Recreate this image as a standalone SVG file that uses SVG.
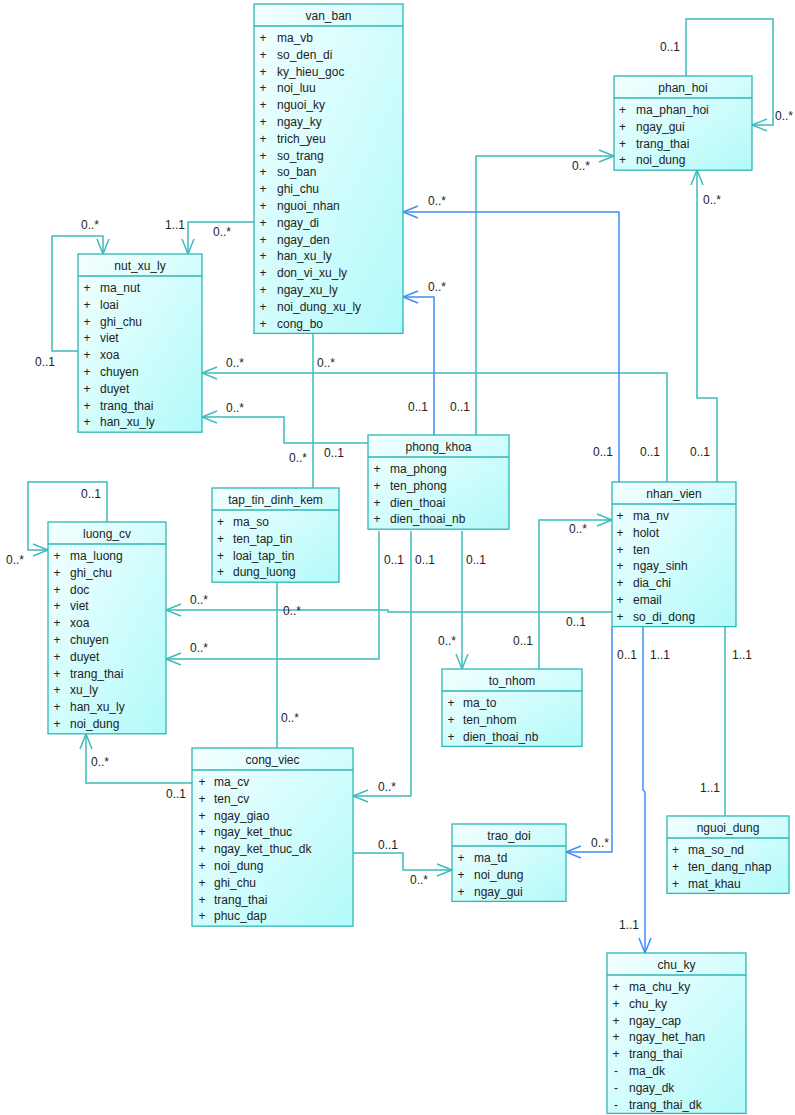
<svg xmlns="http://www.w3.org/2000/svg" width="795" height="1115" viewBox="0 0 795 1115">
<style>
text{font-family:"Liberation Sans",Arial,sans-serif;font-size:12px;fill:#222}
.t,.s{text-anchor:middle}
.box{fill:url(#g);stroke:#2fb6b6;stroke-width:1.3}
.hd{stroke:#2fb6b6;stroke-width:1.3}
.c{fill:none;stroke:#3cbcbc;stroke-width:1.5}
.b{fill:none;stroke:#3d8ef5;stroke-width:1.5}
</style>
<defs>
<linearGradient id="g" x1="0" y1="0" x2="1" y2="1">
<stop offset="0" stop-color="#f4ffff"/>
<stop offset="1" stop-color="#b2fafa"/>
</linearGradient>
<marker id="at" markerUnits="userSpaceOnUse" markerWidth="18" markerHeight="14" refX="16" refY="7" orient="auto" viewBox="0 0 18 14"><path d="M1,1 L16,7 L1,13" fill="none" stroke="#3cbcbc" stroke-width="1.5"/></marker>
<marker id="ab" markerUnits="userSpaceOnUse" markerWidth="18" markerHeight="14" refX="16" refY="7" orient="auto" viewBox="0 0 18 14"><path d="M1,1 L16,7 L1,13" fill="none" stroke="#3d8ef5" stroke-width="1.5"/></marker>
</defs>
<rect width="795" height="1115" fill="#fff"/>

<g id="connectors">
<path class="c" d="M254,222 H188 V254" marker-end="url(#at)"/>
<path class="c" d="M78,351 H52 V236 H103 V254" marker-end="url(#at)"/>
<path class="c" d="M667,482 V373 H202" marker-end="url(#at)"/>
<path class="c" d="M368,443 H284 V417 H202" marker-end="url(#at)"/>
<path class="c" d="M313,333 V488"/>
<path class="b" d="M434,435 V297 H403" marker-end="url(#ab)"/>
<path class="c" d="M476,435 V156 H614" marker-end="url(#at)"/>
<path class="b" d="M619,482 V212 H403" marker-end="url(#ab)"/>
<path class="c" d="M686,76 V19 H773 V125 H752" marker-end="url(#at)"/>
<path class="c" d="M717,482 V398 H697 V170" marker-end="url(#at)"/>
<path class="c" d="M107,522 V482 H28 V550 H48" marker-end="url(#at)"/>
<path class="c" d="M612,612 H388 V610 H166" marker-end="url(#at)"/>
<path class="c" d="M379,531 V659 H166" marker-end="url(#at)"/>
<path class="c" d="M411,531 V796 H353" marker-end="url(#at)"/>
<path class="c" d="M462,531 V669" marker-end="url(#at)"/>
<path class="c" d="M539,669 V520 H612" marker-end="url(#at)"/>
<path class="c" d="M277,582 V748"/>
<path class="c" d="M192,783 H86 V734" marker-end="url(#at)"/>
<path class="c" d="M353,853 H403 V870 H452" marker-end="url(#at)"/>
<path class="b" d="M612,627 V852 H566" marker-end="url(#ab)"/>
<path class="b" d="M643,627 V790 L645,792 V953" marker-end="url(#ab)"/>
<path class="c" d="M725,627 V816"/>
<text x="165" y="229">1..1</text><text x="213" y="236">0..*</text>
<text x="81" y="229">0..*</text><text x="35" y="366">0..1</text>
<text x="226" y="367">0..*</text><text x="640" y="456">0..1</text>
<text x="226" y="412">0..*</text><text x="324" y="457">0..1</text>
<text x="317" y="367">0..*</text><text x="289" y="462">0..*</text>
<text x="428" y="291">0..*</text><text x="408" y="411">0..1</text>
<text x="450" y="411">0..1</text><text x="572" y="170">0..*</text>
<text x="428" y="205">0..*</text><text x="593" y="456">0..1</text>
<text x="660" y="51">0..1</text><text x="775" y="120">0..*</text>
<text x="703" y="204">0..*</text><text x="690" y="456">0..1</text>
<text x="81" y="498">0..1</text><text x="6" y="564">0..*</text>
<text x="190" y="604">0..*</text><text x="566" y="626">0..1</text>
<text x="384" y="564">0..1</text><text x="190" y="652">0..*</text>
<text x="415" y="564">0..1</text><text x="378" y="791">0..*</text>
<text x="466" y="564">0..1</text><text x="438" y="645">0..*</text>
<text x="513" y="645">0..1</text><text x="569" y="533">0..*</text>
<text x="283" y="615">0..*</text><text x="281" y="722">0..*</text>
<text x="91" y="766">0..*</text><text x="166" y="798">0..1</text>
<text x="378" y="849">0..1</text><text x="410" y="884">0..*</text>
<text x="617" y="659">0..1</text><text x="591" y="847">0..*</text>
<text x="650" y="659">1..1</text><text x="619" y="929">1..1</text>
<text x="732" y="659">1..1</text><text x="700" y="792">1..1</text>
</g>

<g id="van_ban">
<rect class="box" x="254" y="4" width="149" height="329.4"/>
<line class="hd" x1="254" y1="26" x2="403" y2="26"/>
<text class="t" x="328.5" y="19.5">van_ban</text>
<text y="42"><tspan class="s" x="263">+</tspan><tspan x="277">ma_vb</tspan></text>
<text y="58.8"><tspan class="s" x="263">+</tspan><tspan x="277">so_den_di</tspan></text>
<text y="75.6"><tspan class="s" x="263">+</tspan><tspan x="277">ky_hieu_goc</tspan></text>
<text y="92.4"><tspan class="s" x="263">+</tspan><tspan x="277">noi_luu</tspan></text>
<text y="109.2"><tspan class="s" x="263">+</tspan><tspan x="277">nguoi_ky</tspan></text>
<text y="126"><tspan class="s" x="263">+</tspan><tspan x="277">ngay_ky</tspan></text>
<text y="142.8"><tspan class="s" x="263">+</tspan><tspan x="277">trich_yeu</tspan></text>
<text y="159.6"><tspan class="s" x="263">+</tspan><tspan x="277">so_trang</tspan></text>
<text y="176.4"><tspan class="s" x="263">+</tspan><tspan x="277">so_ban</tspan></text>
<text y="193.2"><tspan class="s" x="263">+</tspan><tspan x="277">ghi_chu</tspan></text>
<text y="210"><tspan class="s" x="263">+</tspan><tspan x="277">nguoi_nhan</tspan></text>
<text y="226.8"><tspan class="s" x="263">+</tspan><tspan x="277">ngay_di</tspan></text>
<text y="243.6"><tspan class="s" x="263">+</tspan><tspan x="277">ngay_den</tspan></text>
<text y="260.4"><tspan class="s" x="263">+</tspan><tspan x="277">han_xu_ly</tspan></text>
<text y="277.2"><tspan class="s" x="263">+</tspan><tspan x="277">don_vi_xu_ly</tspan></text>
<text y="294"><tspan class="s" x="263">+</tspan><tspan x="277">ngay_xu_ly</tspan></text>
<text y="310.8"><tspan class="s" x="263">+</tspan><tspan x="277">noi_dung_xu_ly</tspan></text>
<text y="327.6"><tspan class="s" x="263">+</tspan><tspan x="277">cong_bo</tspan></text>
</g>

<g id="phan_hoi">
<rect class="box" x="614" y="76" width="138" height="94.2"/>
<line class="hd" x1="614" y1="98" x2="752" y2="98"/>
<text class="t" x="683" y="91.5">phan_hoi</text>
<text y="114"><tspan class="s" x="622.5">+</tspan><tspan x="636">ma_phan_hoi</tspan></text>
<text y="130.8"><tspan class="s" x="622.5">+</tspan><tspan x="636">ngay_gui</tspan></text>
<text y="147.6"><tspan class="s" x="622.5">+</tspan><tspan x="636">trang_thai</tspan></text>
<text y="164.4"><tspan class="s" x="622.5">+</tspan><tspan x="636">noi_dung</tspan></text>
</g>

<g id="nut_xu_ly">
<rect class="box" x="78" y="254" width="124" height="178.2"/>
<line class="hd" x1="78" y1="276" x2="202" y2="276"/>
<text class="t" x="140" y="269.5">nut_xu_ly</text>
<text y="292"><tspan class="s" x="87">+</tspan><tspan x="100">ma_nut</tspan></text>
<text y="308.8"><tspan class="s" x="87">+</tspan><tspan x="100">loai</tspan></text>
<text y="325.6"><tspan class="s" x="87">+</tspan><tspan x="100">ghi_chu</tspan></text>
<text y="342.4"><tspan class="s" x="87">+</tspan><tspan x="100">viet</tspan></text>
<text y="359.2"><tspan class="s" x="87">+</tspan><tspan x="100">xoa</tspan></text>
<text y="376"><tspan class="s" x="87">+</tspan><tspan x="100">chuyen</tspan></text>
<text y="392.8"><tspan class="s" x="87">+</tspan><tspan x="100">duyet</tspan></text>
<text y="409.6"><tspan class="s" x="87">+</tspan><tspan x="100">trang_thai</tspan></text>
<text y="426.4"><tspan class="s" x="87">+</tspan><tspan x="100">han_xu_ly</tspan></text>
</g>

<g id="phong_khoa">
<rect class="box" x="368" y="435" width="141" height="94.2"/>
<line class="hd" x1="368" y1="457" x2="509" y2="457"/>
<text class="t" x="438.5" y="450.5">phong_khoa</text>
<text y="473"><tspan class="s" x="377">+</tspan><tspan x="390">ma_phong</tspan></text>
<text y="489.8"><tspan class="s" x="377">+</tspan><tspan x="390">ten_phong</tspan></text>
<text y="506.6"><tspan class="s" x="377">+</tspan><tspan x="390">dien_thoai</tspan></text>
<text y="523.4"><tspan class="s" x="377">+</tspan><tspan x="390">dien_thoai_nb</tspan></text>
</g>

<g id="tap_tin_dinh_kem">
<rect class="box" x="212" y="488" width="127" height="94.2"/>
<line class="hd" x1="212" y1="510" x2="339" y2="510"/>
<text class="t" x="275.5" y="503.5">tap_tin_dinh_kem</text>
<text y="526"><tspan class="s" x="220.5">+</tspan><tspan x="233">ma_so</tspan></text>
<text y="542.8"><tspan class="s" x="220.5">+</tspan><tspan x="233">ten_tap_tin</tspan></text>
<text y="559.6"><tspan class="s" x="220.5">+</tspan><tspan x="233">loai_tap_tin</tspan></text>
<text y="576.4"><tspan class="s" x="220.5">+</tspan><tspan x="233">dung_luong</tspan></text>
</g>

<g id="nhan_vien">
<rect class="box" x="612" y="482" width="124" height="144.6"/>
<line class="hd" x1="612" y1="504" x2="736" y2="504"/>
<text class="t" x="674" y="497.5">nhan_vien</text>
<text y="520"><tspan class="s" x="620">+</tspan><tspan x="633">ma_nv</tspan></text>
<text y="536.8"><tspan class="s" x="620">+</tspan><tspan x="633">holot</tspan></text>
<text y="553.6"><tspan class="s" x="620">+</tspan><tspan x="633">ten</tspan></text>
<text y="570.4"><tspan class="s" x="620">+</tspan><tspan x="633">ngay_sinh</tspan></text>
<text y="587.2"><tspan class="s" x="620">+</tspan><tspan x="633">dia_chi</tspan></text>
<text y="604"><tspan class="s" x="620">+</tspan><tspan x="633">email</tspan></text>
<text y="620.8"><tspan class="s" x="620">+</tspan><tspan x="633">so_di_dong</tspan></text>
</g>

<g id="luong_cv">
<rect class="box" x="48" y="522" width="118" height="211.8"/>
<line class="hd" x1="48" y1="544" x2="166" y2="544"/>
<text class="t" x="107" y="537.5">luong_cv</text>
<text y="560"><tspan class="s" x="57">+</tspan><tspan x="70">ma_luong</tspan></text>
<text y="576.8"><tspan class="s" x="57">+</tspan><tspan x="70">ghi_chu</tspan></text>
<text y="593.6"><tspan class="s" x="57">+</tspan><tspan x="70">doc</tspan></text>
<text y="610.4"><tspan class="s" x="57">+</tspan><tspan x="70">viet</tspan></text>
<text y="627.2"><tspan class="s" x="57">+</tspan><tspan x="70">xoa</tspan></text>
<text y="644"><tspan class="s" x="57">+</tspan><tspan x="70">chuyen</tspan></text>
<text y="660.8"><tspan class="s" x="57">+</tspan><tspan x="70">duyet</tspan></text>
<text y="677.6"><tspan class="s" x="57">+</tspan><tspan x="70">trang_thai</tspan></text>
<text y="694.4"><tspan class="s" x="57">+</tspan><tspan x="70">xu_ly</tspan></text>
<text y="711.2"><tspan class="s" x="57">+</tspan><tspan x="70">han_xu_ly</tspan></text>
<text y="728"><tspan class="s" x="57">+</tspan><tspan x="70">noi_dung</tspan></text>
</g>

<g id="to_nhom">
<rect class="box" x="442" y="669" width="140" height="77.4"/>
<line class="hd" x1="442" y1="691" x2="582" y2="691"/>
<text class="t" x="512" y="684.5">to_nhom</text>
<text y="707"><tspan class="s" x="451">+</tspan><tspan x="463">ma_to</tspan></text>
<text y="723.8"><tspan class="s" x="451">+</tspan><tspan x="463">ten_nhom</tspan></text>
<text y="740.6"><tspan class="s" x="451">+</tspan><tspan x="463">dien_thoai_nb</tspan></text>
</g>

<g id="cong_viec">
<rect class="box" x="192" y="748" width="161" height="178.2"/>
<line class="hd" x1="192" y1="770" x2="353" y2="770"/>
<text class="t" x="272.5" y="763.5">cong_viec</text>
<text y="786"><tspan class="s" x="202">+</tspan><tspan x="214">ma_cv</tspan></text>
<text y="802.8"><tspan class="s" x="202">+</tspan><tspan x="214">ten_cv</tspan></text>
<text y="819.6"><tspan class="s" x="202">+</tspan><tspan x="214">ngay_giao</tspan></text>
<text y="836.4"><tspan class="s" x="202">+</tspan><tspan x="214">ngay_ket_thuc</tspan></text>
<text y="853.2"><tspan class="s" x="202">+</tspan><tspan x="214">ngay_ket_thuc_dk</tspan></text>
<text y="870"><tspan class="s" x="202">+</tspan><tspan x="214">noi_dung</tspan></text>
<text y="886.8"><tspan class="s" x="202">+</tspan><tspan x="214">ghi_chu</tspan></text>
<text y="903.6"><tspan class="s" x="202">+</tspan><tspan x="214">trang_thai</tspan></text>
<text y="920.4"><tspan class="s" x="202">+</tspan><tspan x="214">phuc_dap</tspan></text>
</g>

<g id="trao_doi">
<rect class="box" x="452" y="824" width="114" height="77.4"/>
<line class="hd" x1="452" y1="846" x2="566" y2="846"/>
<text class="t" x="509" y="839.5">trao_doi</text>
<text y="862"><tspan class="s" x="461">+</tspan><tspan x="474">ma_td</tspan></text>
<text y="878.8"><tspan class="s" x="461">+</tspan><tspan x="474">noi_dung</tspan></text>
<text y="895.6"><tspan class="s" x="461">+</tspan><tspan x="474">ngay_gui</tspan></text>
</g>

<g id="nguoi_dung">
<rect class="box" x="667" y="816" width="122" height="77.4"/>
<line class="hd" x1="667" y1="838" x2="789" y2="838"/>
<text class="t" x="728" y="831.5">nguoi_dung</text>
<text y="854"><tspan class="s" x="675.5">+</tspan><tspan x="688">ma_so_nd</tspan></text>
<text y="870.8"><tspan class="s" x="675.5">+</tspan><tspan x="688">ten_dang_nhap</tspan></text>
<text y="887.6"><tspan class="s" x="675.5">+</tspan><tspan x="688">mat_khau</tspan></text>
</g>

<g id="chu_ky">
<rect class="box" x="607" y="953" width="139" height="160.4"/>
<line class="hd" x1="607" y1="975" x2="746" y2="975"/>
<text class="t" x="676.5" y="968.5">chu_ky</text>
<text y="991"><tspan class="s" x="616">+</tspan><tspan x="629">ma_chu_ky</tspan></text>
<text y="1007.8"><tspan class="s" x="616">+</tspan><tspan x="629">chu_ky</tspan></text>
<text y="1024.6"><tspan class="s" x="616">+</tspan><tspan x="629">ngay_cap</tspan></text>
<text y="1041.4"><tspan class="s" x="616">+</tspan><tspan x="629">ngay_het_han</tspan></text>
<text y="1058.2"><tspan class="s" x="616">+</tspan><tspan x="629">trang_thai</tspan></text>
<text y="1075"><tspan class="s" x="616">-</tspan><tspan x="629">ma_dk</tspan></text>
<text y="1091.8"><tspan class="s" x="616">-</tspan><tspan x="629">ngay_dk</tspan></text>
<text y="1108.6"><tspan class="s" x="616">-</tspan><tspan x="629">trang_thai_dk</tspan></text>
</g>
</svg>
